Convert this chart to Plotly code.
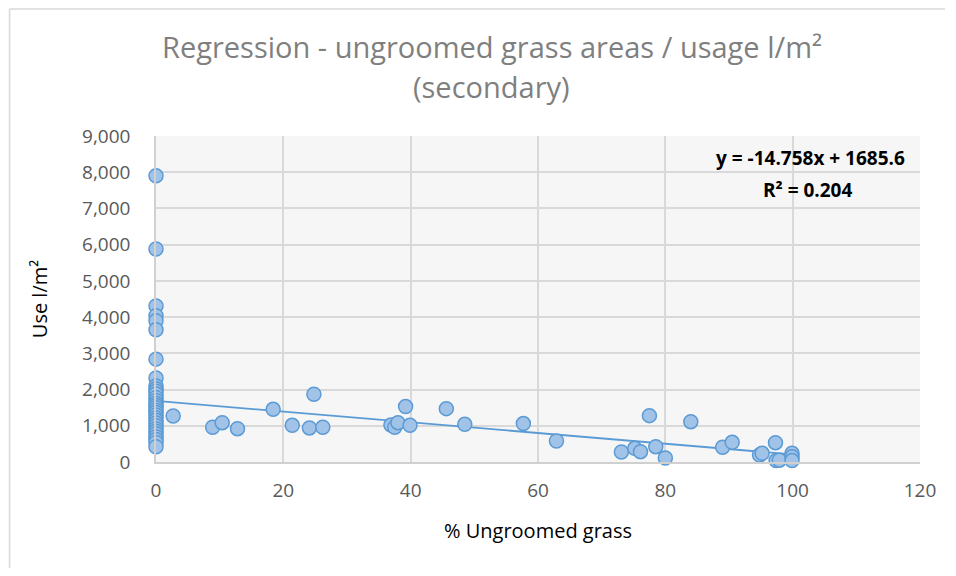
import plotly.graph_objects as go

# % ungroomed grass (x) and use l/m2 (y)
pct_cero = [0] * 31
uso_cero = [7900, 5880, 4310, 4040, 3900, 3650, 2840, 2320, 2100, 2020, 1950,
            1880, 1780, 1700, 1620, 1560, 1500, 1430, 1370, 1300, 1220, 1150,
            1080, 1000, 920, 850, 780, 700, 620, 540, 420]

pct_resto = [2.7, 8.9, 10.4, 12.8, 18.4, 21.4, 24.1, 24.8, 26.2,
             36.9, 37.5, 38.0, 39.2, 39.9, 45.6, 48.5, 57.7, 62.9,
             73.1, 75.2, 76.1, 77.5, 78.5, 80.0, 84.0, 89.0, 90.5,
             94.8, 95.2, 97.3, 97.4, 97.9, 99.9, 99.9, 99.9]
uso_resto = [1270, 960, 1085, 920, 1455, 1013, 940, 1870, 960,
             1020, 960, 1085, 1530, 1013, 1473, 1040, 1060, 580,
             276, 378, 285, 1280, 423, 110, 1113, 406, 544,
             193, 240, 533, 40, 50, 240, 146, 40]

pct = pct_cero + pct_resto
uso = uso_cero + uso_resto

# trendline as printed on the chart
pendiente = -14.758
intercepto = 1685.6
tend_x = [0, 100]
tend_y = [pendiente * x + intercepto for x in tend_x]

x_ticks = [0, 20, 40, 60, 80, 100, 120]
y_ticks = list(range(0, 9001, 1000))

AZUL = '#5b9bd5'
GRIS_TXT = '#595959'
FUENTE = 'Open Sans'

# the page body adds an 8px margin; keep the figure small enough to avoid
# scrollbars. Plot area spans 148..915 x 128..454 inside the figure
ANCHO, ALTO = 940, 560
L, R, T, B = 148, 25, 128, 106
PW, PH = ANCHO - L - R, ALTO - T - B


def px(x):
    return (x - L) / PW


def py(y):
    return (ALTO - B - y) / PH


fig = go.Figure()

fig.add_trace(go.Scatter(x=tend_x, y=tend_y, mode='lines',
                         line=dict(color=AZUL, width=1.8),
                         hoverinfo='skip', showlegend=False))
fig.add_trace(go.Scatter(x=pct, y=uso, mode='markers', cliponaxis=False,
                         marker=dict(size=14, color='#a2c3e8',
                                     line=dict(color=AZUL, width=1.5)),
                         showlegend=False,
                         hovertemplate='%{x}%<br>%{y:,.0f} l/m²<extra></extra>'))

fig.update_layout(
    width=ANCHO, height=ALTO,
    margin=dict(l=L, r=R, t=T, b=B),
    paper_bgcolor='white', plot_bgcolor='#f6f6f6',
    font=dict(family=FUENTE, color=GRIS_TXT),
)

fig.update_xaxes(range=[0, 120], tickvals=x_ticks, showgrid=True,
                 gridcolor='#d9d9d9', gridwidth=1.5, zeroline=False,
                 showline=True, linecolor='#d0d0d0', linewidth=1.5,
                 ticks='', ticklabelstandoff=10,
                 tickfont=dict(size=19, color=GRIS_TXT),
                 title=dict(text='% Ungroomed grass', standoff=22,
                            font=dict(size=20, color='black')))
fig.update_yaxes(range=[0, 9000], tickvals=y_ticks, tickformat=',',
                 showgrid=True, gridcolor='#d9d9d9', gridwidth=1.5,
                 zeroline=False, showline=True, linecolor='#d0d0d0',
                 linewidth=1.5, ticks='', ticklabelstandoff=20,
                 tickfont=dict(size=19, color=GRIS_TXT),
                 title=dict(text='Use l/m²', standoff=29,
                            font=dict(size=20, color='black')))

# title, two lines
for texto, yc in [('Regression - ungroomed grass areas / usage l/m²', 38),
                  ('(secondary)', 78)]:
    fig.add_annotation(text=texto, xref='paper', yref='paper',
                       x=px(485), y=py(yc), xanchor='center', yanchor='middle',
                       showarrow=False,
                       font=dict(size=29, color='#7f7f7f', family=FUENTE))

# equation label
fig.add_annotation(text='<b>y = -14.758x + 1685.6</b>', xref='paper', yref='paper',
                   x=px(902), y=py(150), xanchor='right',
                   yanchor='middle', showarrow=False,
                   font=dict(size=19, color='black', family=FUENTE))
fig.add_annotation(text='<b>R² = 0.204</b>', xref='paper', yref='paper',
                   x=px(802), y=py(182), xanchor='center',
                   yanchor='middle', showarrow=False,
                   font=dict(size=19, color='black', family=FUENTE))

# chart border: only the left and top edges fall inside the window
borde = dict(color='#d9d9d9', width=1.5)
fig.add_shape(type='line', xref='paper', yref='paper',
              x0=px(1), x1=px(1), y0=py(ALTO), y1=py(1), line=borde, layer='below')
fig.add_shape(type='line', xref='paper', yref='paper',
              x0=px(1), x1=px(ANCHO), y0=py(1), y1=py(1), line=borde, layer='below')

fig.write_html('out.html')
